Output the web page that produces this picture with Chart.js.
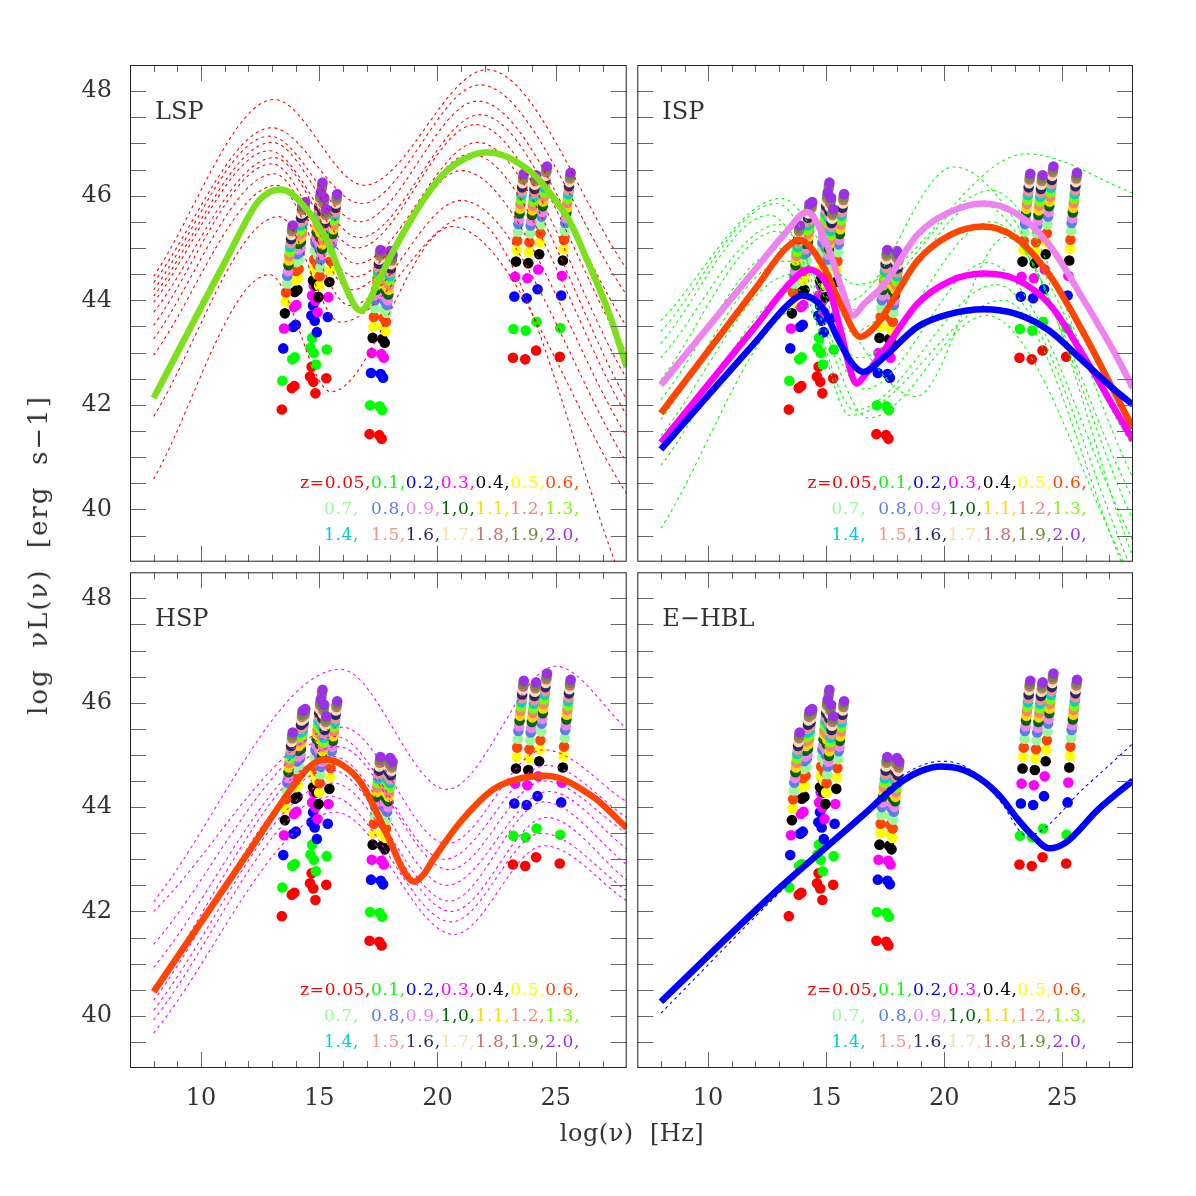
<!DOCTYPE html>
<html>
<head>
<meta charset="utf-8">
<title>Blazar SEDs vs survey limits</title>
<script src="https://cdn.jsdelivr.net/npm/chart.js@4.4.1/dist/chart.umd.min.js"></script>
<style>
  html, body { margin: 0; padding: 0; background: #fff; }
  #figure { position: relative; width: 1196px; height: 1196px; overflow: hidden; }
  #figure canvas { position: absolute; }
  .axis-title { position: absolute; font-family: 'DejaVu Serif', serif; color: #333; white-space: pre; }
  #xtitle { left: 632px; top: 1133px; font-size: 24px; letter-spacing: 0.5px; transform: translate(-50%, -50%); }
  #ytitle { left: 38px; top: 555px; font-size: 26px; letter-spacing: 2px; transform: translate(-50%, -50%) rotate(-90deg); }
</style>
</head>
<body>
<div id="figure">
  <canvas id="lsp" width="632" height="567" style="left:0;top:0"></canvas>
  <canvas id="isp" width="564" height="567" style="left:632px;top:0"></canvas>
  <canvas id="hsp" width="632" height="629" style="left:0;top:567px"></canvas>
  <canvas id="ehbl" width="564" height="629" style="left:632px;top:567px"></canvas>
  <div class="axis-title" id="xtitle">log(ν)  [Hz]</div>
  <div class="axis-title" id="ytitle">log  νL(ν)  [erg  s−1]</div>
</div>
<script>
// axes
const nuMin = 7, nuMax = 28;
const lumMin = 39, lumMax = 48.5;
const nuTicks = [10, 15, 20, 25];
const lumTicks = [40, 42, 44, 46, 48];

// redshift grid of the survey limits
const redshifts = ['0.05', '0.1', '0.2', '0.3', '0.4', '0.5', '0.6', '0.7', '0.8', '0.9', '1.0',
                   '1.1', '1.2', '1.3', '1.4', '1.5', '1.6', '1.7', '1.8', '1.9', '2.0'];
const zColors = ['#ff0000', '#00ff00', '#0000ff', '#ff00ff', '#000000', '#ffff00', '#ff4500',
                 '#98fb98', '#5a7fe8', '#ee82ee', '#006400', '#ffd700', '#fa8072', '#7cfc00',
                 '#00ced1', '#f4908a', '#27276e', '#f5e2a8', '#cd6e6e', '#6b8e3a', '#9b30e6'];
const legendRows = [
  ['z=0.05,', '0.1,', '0.2,', '0.3,', '0.4,', '0.5,', '0.6,'],
  ['0.7,  ', '0.8,', '0.9,', '1,0,', '1.1,', '1.2,', '1.3,'],
  ['1.4,  ', '1.5,', '1.6,', '1.7,', '1.8,', '1.9,', '2.0,']
];
// shift of each limit point with redshift (log nu, log L)
const zShiftNu = [0, 0.02, 0.06, 0.09, 0.13, 0.16, 0.18, 0.21, 0.23, 0.26, 0.28,
                  0.30, 0.32, 0.34, 0.36, 0.38, 0.39, 0.41, 0.43, 0.44, 0.46];
const zShiftL = [0, 0.55, 1.17, 1.55, 1.84, 2.06, 2.24, 2.41, 2.56, 2.65, 2.76,
                 2.85, 2.94, 3.02, 3.11, 3.18, 3.26, 3.34, 3.41, 3.46, 3.52];
// survey limits at z=0.05
const limitNu = [13.42, 13.84, 13.95, 14.61, 14.68, 14.75, 14.84, 15.30, 17.13, 17.54, 17.64, 23.19, 23.71, 24.17, 25.17];
const limitL = [41.91, 42.32, 42.36, 42.54, 42.73, 42.44, 42.22, 42.51, 41.44, 41.42, 41.35, 42.90, 42.87, 43.04, 42.92];

// LSP
const lspMeanNu = [8, 10, 11, 12, 12.4, 12.9, 13.35, 13.8, 14.26, 14.82, 15.38, 15.93, 16.49, 16.77, 17.1, 17.47,
                   18.17, 18.87, 19.5, 20.26, 21.2, 22.08, 22.8, 23.47, 24.2, 24.87, 25.6, 26.26, 27.24, 28];
const lspMeanL = [42.13, 43.86, 44.72, 45.59, 45.88, 46.07, 46.12, 46.05, 45.85, 45.53, 45.09, 44.46, 43.90, 43.80, 43.98, 44.34,
                  44.97, 45.53, 45.98, 46.42, 46.72, 46.83, 46.77, 46.61, 46.35, 45.98, 45.5, 44.84, 43.77, 42.72];
const lspModels = [
  [[8, 44.46], [13.1, 47.84], [16.9, 46.2], [22.1, 48.41], [28, 44.6]],
  [[8, 44.34], [13.0, 47.30], [16.8, 45.85], [21.8, 48.12], [28, 44.1]],
  [[8, 44.2], [12.9, 47.14], [16.7, 45.5], [21.7, 47.81], [28, 43.5]],
  [[8, 44.08], [13.0, 47.02], [16.7, 45.2], [21.8, 47.55], [28, 43.0]],
  [[8, 43.96], [12.9, 46.86], [16.6, 45.0], [21.6, 47.36], [28, 42.5]],
  [[8, 43.77], [13.1, 46.73], [16.6, 44.7], [21.7, 47.02], [28, 42.1]],
  [[8, 43.52], [13.0, 46.61], [16.5, 44.45], [21.4, 46.8], [28, 41.8]],
  [[8, 43.26], [13.1, 46.42], [16.4, 44.2], [21.0, 46.48], [28, 41.4]],
  [[8, 42.95], [13.2, 46.2], [16.3, 43.9], [21.0, 45.91], [28, 40.9]],
  [[8, 41.78], [13.3, 45.6], [15.9, 43.58], [21.3, 45.6], [27.5, 39.0], [28.5, 37.6]],
  [[8, 40.58], [12.9, 44.49], [15.5, 42.25], [20.6, 45.41], [28, 40.3]]
];

// ISP
const ispVioletNu = [8, 10, 12, 13.3, 14.19, 15.09, 15.65, 16.14, 16.6, 17.47, 18.86, 20.26, 21.66, 23.05, 24.45, 25.85, 27.24, 28];
const ispVioletL = [42.38, 43.49, 44.59, 45.3, 45.69, 45.0, 44.24, 43.71, 43.93, 44.31, 45.25, 45.69, 45.85, 45.66, 45.06, 44.05, 42.98, 42.32];
const ispOrangeNu = [8, 10, 12, 13.28, 13.86, 14.84, 15.68, 16.45, 17.05, 17.47, 18.86, 20.26, 21.66, 23.05, 24.45, 25.85, 27.24, 28];
const ispOrangeL = [41.84, 43.03, 44.22, 44.99, 45.16, 44.68, 43.86, 43.30, 43.49, 43.74, 44.75, 45.25, 45.41, 45.19, 44.49, 43.42, 42.22, 41.55];
const ispMagentaNu = [8, 10, 12, 13.56, 14.26, 15.09, 15.65, 16.0, 16.28, 16.7, 17.47, 18.86, 20.26, 21.66, 23.05, 24.45, 25.85, 27.24, 28];
const ispMagentaL = [41.28, 42.39, 43.5, 44.37, 44.59, 44.24, 43.36, 42.7, 42.41, 42.6, 43.05, 43.93, 44.37, 44.51, 44.40, 43.93, 42.98, 41.91, 41.32];
const ispBlueNu = [8, 10, 12, 13.42, 13.98, 14.84, 15.54, 16.1, 16.58, 17.47, 18.86, 20.26, 21.66, 23.05, 24.45, 25.85, 27.24, 28];
const ispBlueL = [41.15, 42.18, 43.2, 43.93, 44.09, 43.86, 43.23, 42.79, 42.63, 42.92, 43.49, 43.74, 43.83, 43.74, 43.42, 42.85, 42.28, 42.0];
const ispModels = [
  [[8, 43.61], [13.1, 45.95], [16.3, 44.3], [23.5, 46.8], [28, 46.05]],
  [[8, 43.4], [12.9, 45.85], [16.0, 44.0], [20.4, 46.55], [28, 41.2]],
  [[8, 43.17], [12.6, 45.63], [15.8, 43.8], [22.0, 46.1], [28, 40.6]],
  [[8, 42.9], [13.0, 45.45], [16.1, 43.4], [21.5, 45.85], [28, 40.2]],
  [[8, 42.48], [12.9, 45.32], [16.4, 42.9], [22.0, 45.5], [28, 39.8]],
  [[8, 42.1], [13.2, 45.0], [16.6, 42.3], [21.8, 44.72], [28, 39.4]],
  [[8, 41.72], [13.3, 44.75], [18.8, 42.16], [22.6, 45.2], [28, 39.1]],
  [[8, 41.41], [13.6, 44.5], [16.8, 41.75], [21.8, 43.71], [27.6, 39.0], [28.3, 38.3]],
  [[8, 40.84], [13.8, 44.2], [16.2, 41.9], [22.2, 44.3], [27.8, 39.0], [28.3, 38.4]],
  [[8, 39.64], [14.1, 43.9], [16.0, 41.8], [22.5, 44.0], [27.5, 39.0], [28.2, 38.2]]
];

// HSP
const hspMeanNu = [8, 10, 12, 13.98, 14.6, 15.24, 16.0, 16.77, 17.89, 18.59, 19.0, 19.4, 19.84, 20.96, 22.36, 23.5, 24.59, 26.54, 28];
const hspMeanL = [40.46, 41.79, 43.13, 44.45, 44.78, 44.91, 44.8, 44.46, 43.45, 42.76, 42.57, 42.7, 43.01, 43.71, 44.34, 44.55, 44.60, 44.21, 43.6];
const hspModels = [
  [[8, 42.19], [15.9, 46.64], [20.4, 44.34], [25.0, 46.70], [28, 45.5]],
  [[8, 42.0], [16.0, 45.53], [20.4, 43.3], [24.5, 45.1], [28, 44.1]],
  [[8, 41.37], [15.7, 45.35], [20.3, 43.0], [24.6, 44.8], [28, 43.8]],
  [[8, 40.93], [15.8, 45.16], [20.5, 42.8], [24.5, 44.5], [28, 43.5]],
  [[8, 40.55], [15.6, 44.97], [20.4, 42.5], [24.7, 44.3], [28, 43.2]],
  [[8, 40.30], [15.5, 44.71], [20.5, 42.2], [24.5, 44.1], [28, 42.9]],
  [[8, 40.11], [15.6, 44.46], [20.6, 42.0], [24.6, 43.8], [28, 42.6]],
  [[8, 39.92], [15.5, 44.2], [20.6, 41.8], [24.4, 43.5], [28, 42.4]],
  [[8, 39.67], [15.7, 43.9], [20.7, 41.56], [24.5, 43.26], [28, 42.2]]
];

// E-HBL
const ehblMeanNu = [8, 13, 15, 16.5, 17.6, 18.3, 19.0, 19.84, 20.6, 21.5, 22.36, 23.1, 23.75, 24.45, 25.15, 26.54, 28];
const ehblMeanL = [40.27, 42.44, 43.23, 43.82, 44.27, 44.52, 44.69, 44.78, 44.74, 44.55, 44.21, 43.78, 43.45, 43.21, 43.32, 43.96, 44.51];
const ehblModels = [
  [[8, 40.05], [13, 42.35], [16.5, 43.85], [17.6, 44.35], [18.5, 44.68], [19.9, 44.88], [21, 44.75], [22.4, 44.1], [23.5, 43.45], [26, 44.4], [28, 45.22]]
];

const tickFont = { family: 'DejaVu Serif', size: 24 };

// frame, inward ticks on all sides, panel name and the redshift key
const panelDecor = {
  id: 'panelDecor',
  afterDraw(chart) {
    const { ctx, chartArea: a, scales } = chart;
    const x = scales.x, y = scales.y;
    ctx.save();
    ctx.strokeStyle = '#666';
    ctx.lineWidth = 1;
    ctx.beginPath();
    for (let v = nuMin + 1; v < nuMax; v++) {
      const px = Math.round(x.getPixelForValue(v)) + 0.5;
      const len = nuTicks.includes(v) ? 16 : 7;
      ctx.moveTo(px, a.top); ctx.lineTo(px, a.top + len);
      ctx.moveTo(px, a.bottom); ctx.lineTo(px, a.bottom - len);
    }
    for (let v = lumMin + 0.5; v < lumMax; v += 0.5) {
      const py = Math.round(y.getPixelForValue(v)) + 0.5;
      ctx.moveTo(a.left, py); ctx.lineTo(a.left + 16, py);
      ctx.moveTo(a.right, py); ctx.lineTo(a.right - 16, py);
    }
    ctx.stroke();
    ctx.strokeStyle = '#222';
    ctx.strokeRect(a.left + 0.5, a.top + 0.5, a.right - a.left - 1, a.bottom - a.top - 1);

    ctx.fillStyle = '#333';
    ctx.font = '24px "DejaVu Serif"';
    ctx.textBaseline = 'alphabetic';
    ctx.textAlign = 'left';
    ctx.fillText(chart.options.plugins.panelDecor.label, a.left + 25, a.top + 54);

    ctx.font = '17px "DejaVu Serif"';
    ctx.letterSpacing = '0.6px';
    const baselines = [423, 449, 475];
    legendRows.forEach((row, r) => {
      const widths = row.map(t => ctx.measureText(t).width);
      let px = a.left + 450 - widths.reduce((s, w) => s + w, 0);
      row.forEach((t, k) => {
        ctx.fillStyle = zColors[r * 7 + k];
        ctx.fillText(t, px, a.top + baselines[r]);
        px += widths[k];
      });
    });
    ctx.restore();
  }
};
Chart.register(panelDecor);

// fixed axis boxes so every panel lines up; no label overhang padding
function fixBox(size) {
  return s => {
    if (s.options.display) {
      if (s.isHorizontal()) s.height = size; else s.width = size;
    }
    s.paddingLeft = 0; s.paddingRight = 0; s.paddingTop = 0; s.paddingBottom = 0;
  };
}

function lineSet(nu, lum, color, width, dash, order) {
  return {
    data: nu.map((v, i) => ({ x: v, y: lum[i] })),
    showLine: true,
    borderColor: color,
    borderWidth: width,
    borderDash: dash,
    pointRadius: 0,
    cubicInterpolationMode: 'monotone',
    clip: 0,
    order: order
  };
}

function makePanel(id, label, thick, models, modelColor, showX, showY, padding) {
  const datasets = [];
  thick.forEach((t, k) => datasets.push(lineSet(t[0], t[1], t[2], 6.5, [], k)));
  models.forEach(m => datasets.push(lineSet(m.map(p => p[0]), m.map(p => p[1]), modelColor, 1.1, [3, 3.5], 10)));
  redshifts.forEach((z, i) => datasets.push({
    label: 'z=' + z,
    data: limitNu.map((nu, c) => ({ x: nu + zShiftNu[i], y: limitL[c] + zShiftL[i] })),
    showLine: false,
    pointRadius: 5.3,
    pointBackgroundColor: zColors[i],
    pointBorderWidth: 0,
    order: 100 - i
  }));

  return new Chart(document.getElementById(id), {
    type: 'scatter',
    data: { datasets: datasets },
    options: {
      responsive: false,
      animation: false,
      events: [],
      layout: { padding: padding },
      elements: { line: { capBezierPoints: false } },
      plugins: {
        legend: { display: false },
        tooltip: { enabled: false },
        panelDecor: { label: label }
      },
      scales: {
        x: {
          type: 'linear', min: nuMin, max: nuMax, display: showX,
          afterFit: fixBox(128),
          afterBuildTicks: s => { s.ticks = nuTicks.map(v => ({ value: v })); },
          grid: { display: false, drawTicks: false },
          border: { display: false },
          ticks: { font: tickFont, color: '#333', padding: 16, maxRotation: 0 }
        },
        y: {
          type: 'linear', min: lumMin, max: lumMax, display: showY,
          afterFit: fixBox(130),
          afterBuildTicks: s => { s.ticks = lumTicks.map(v => ({ value: v })); },
          grid: { display: false, drawTicks: false },
          border: { display: false },
          ticks: { font: tickFont, color: '#333', padding: 18 }
        }
      }
    }
  });
}

makePanel('lsp', 'LSP', [[lspMeanNu, lspMeanL, '#7ee01c']], lspModels, '#ff0000',
  false, true, { top: 65, left: 0, right: 0, bottom: 0 });
makePanel('isp', 'ISP', [
  [ispBlueNu, ispBlueL, '#0000ff'],
  [ispMagentaNu, ispMagentaL, '#ff00ff'],
  [ispOrangeNu, ispOrangeL, '#ff4500'],
  [ispVioletNu, ispVioletL, '#ee82ee']
], ispModels, '#00ff00', false, false, { top: 65, left: 0, right: 63, bottom: 0 });
makePanel('hsp', 'HSP', [[hspMeanNu, hspMeanL, '#ff4500']], hspModels, '#ff00ff',
  true, true, { top: 0, left: 0, right: 0, bottom: 0 });
makePanel('ehbl', 'E−HBL', [[ehblMeanNu, ehblMeanL, '#0000ff']], ehblModels, '#0000ff',
  true, false, { top: 0, left: 0, right: 63, bottom: 0 });
</script>
</body>
</html>
